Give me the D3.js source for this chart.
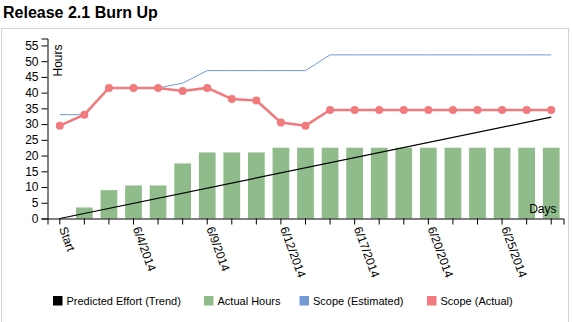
<!DOCTYPE html>
<html>
<head>
<meta charset="utf-8">
<script src="https://cdn.jsdelivr.net/npm/d3@7/dist/d3.min.js"></script>
<style>
  html, body { margin: 0; padding: 0; background: #fff; }
  body { font-family: "Liberation Sans", Arial, sans-serif; }
  svg { display: block; }
</style>
</head>
<body>
<svg id="chart" width="572" height="322"></svg>
<script>
// Working days of the release
const days = ["Start", "6/2/2014", "6/3/2014", "6/4/2014", "6/5/2014", "6/6/2014",
  "6/9/2014", "6/10/2014", "6/11/2014", "6/12/2014", "6/13/2014", "6/16/2014",
  "6/17/2014", "6/18/2014", "6/19/2014", "6/20/2014", "6/23/2014", "6/24/2014",
  "6/25/2014", "6/26/2014", "6/27/2014"];

// Day labels printed under the axis
const tickLabels = ["Start", "6/4/2014", "6/9/2014", "6/12/2014", "6/17/2014", "6/20/2014", "6/25/2014"];

// Cumulative hours worked
const actualHours = [0, 3.5, 9, 10.5, 10.5, 17.5, 21, 21, 21, 22.5, 22.5, 22.5,
  22.5, 22.5, 22.5, 22.5, 22.5, 22.5, 22.5, 22.5, 22.5];

// Estimated scope
const scopeEstimated = [33, 33, 41.5, 41.5, 41.5, 43, 47, 47, 47, 47, 47, 52,
  52, 52, 52, 52, 52, 52, 52, 52, 52];

// Actual scope
const scopeActual = [29.5, 33, 41.5, 41.5, 41.5, 40.5, 41.5, 38, 37.5, 30.5, 29.5, 34.5,
  34.5, 34.5, 34.5, 34.5, 34.5, 34.5, 34.5, 34.5, 34.5];

// Predicted effort trend: first and last day
const trendDays = ["Start", "6/27/2014"];
const trendHours = [0, 32.2];

const legendItems = ["Predicted Effort (Trend)", "Actual Hours", "Scope (Estimated)", "Scope (Actual)"];
const legendColors = ["#000000", "#8fbc8a", "#7399d6", "#f07a7d"];

const svg = d3.select("#chart");

// Frame around the chart area
svg.append("rect")
  .attr("x", 1.5).attr("y", 28.5)
  .attr("width", 567).attr("height", 320)
  .attr("fill", "none").attr("stroke", "#d3d3d3");

svg.append("text")
  .attr("x", 3).attr("y", 18)
  .attr("font-size", 16).attr("font-weight", "bold")
  .attr("fill", "#000")
  .text("Release 2.1 Burn Up");

const margin = { left: 47.5, top: 38.5 };
const width = 516, height = 180;

const g = svg.append("g").attr("transform", `translate(${margin.left},${margin.top})`);

const x = d3.scaleBand().domain(days).range([0, width]).paddingInner(0.32).paddingOuter(0.16);
const cx = d => x(d) + x.bandwidth() / 2;

const y = d3.scaleLinear()
  .domain([0, d3.max(scopeEstimated.concat(scopeActual, actualHours)) * 1.1])
  .range([height, 0]);

// Bars
g.selectAll("rect.bar")
  .data(days)
  .join("rect")
  .attr("class", "bar")
  .attr("x", d => x(d))
  .attr("width", x.bandwidth())
  .attr("y", (d, i) => y(actualHours[i]))
  .attr("height", (d, i) => height - y(actualHours[i]))
  .attr("fill", legendColors[1]);

// Trend line
const trendLine = d3.line().x((d, i) => cx(trendDays[i])).y(d => y(d));
g.append("path")
  .datum(trendHours)
  .attr("d", trendLine)
  .attr("fill", "none")
  .attr("stroke", legendColors[0])
  .attr("stroke-width", 1.2);

const line = d3.line().x((d, i) => cx(days[i])).y(d => y(d));

// Estimated scope line
g.append("path")
  .datum(scopeEstimated)
  .attr("d", line)
  .attr("fill", "none")
  .attr("stroke", legendColors[2])
  .attr("stroke-width", 1);

// Actual scope line with markers
g.append("path")
  .datum(scopeActual)
  .attr("d", line)
  .attr("fill", "none")
  .attr("stroke", legendColors[3])
  .attr("stroke-width", 2.5);

g.selectAll("circle.pt")
  .data(scopeActual)
  .join("circle")
  .attr("class", "pt")
  .attr("cx", (d, i) => cx(days[i]))
  .attr("cy", d => y(d))
  .attr("r", 4)
  .attr("fill", legendColors[3]);

// X axis
const xAxis = d3.axisBottom(x)
  .tickSizeOuter(6)
  .tickFormat(d => tickLabels.includes(d) ? d : "");

const gx = g.append("g")
  .attr("transform", `translate(0,${height})`)
  .call(xAxis);
gx.selectAll("text")
  .attr("y", 0).attr("x", 9).attr("dy", ".35em")
  .attr("transform", "rotate(70)")
  .style("text-anchor", "start");

gx.append("text")
  .attr("x", width - 7).attr("y", -6)
  .attr("fill", "#000")
  .style("text-anchor", "end")
  .attr("font-size", 12)
  .text("Days");

// Y axis
const gy = g.append("g").call(d3.axisLeft(y).tickValues(d3.range(0, 56, 5)));
gy.append("text")
  .attr("transform", "rotate(-90)")
  .attr("x", -6).attr("y", 6).attr("dy", ".71em")
  .attr("fill", "#000")
  .style("text-anchor", "end")
  .attr("font-size", 12)
  .text("Hours");

svg.selectAll(".tick text").attr("font-size", 12).attr("fill", "#000").attr("font-family", "Liberation Sans, Arial, sans-serif");
svg.selectAll(".domain, .tick line").attr("stroke", "#000");

// Legend
const legendX = [53, 204, 299.5, 427];
const legend = svg.append("g");
legendItems.forEach((name, i) => {
  legend.append("rect")
    .attr("x", legendX[i]).attr("y", 296)
    .attr("width", 9.5).attr("height", 9.5)
    .attr("fill", legendColors[i]);
  legend.append("text")
    .attr("x", legendX[i] + 13.5).attr("y", 304.5)
    .attr("font-size", 11)
    .attr("fill", "#000")
    .text(name);
});
</script>
</body>
</html>
